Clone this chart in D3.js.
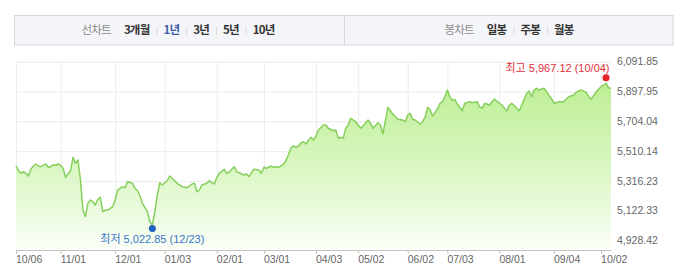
<!DOCTYPE html>
<html>
<head>
<meta charset="utf-8">
<script src="https://cdn.jsdelivr.net/npm/d3@7"></script>
<style>
  body { margin: 0; background: #fff; }
  svg { display: block; }
</style>
</head>
<body>
<div id="chart"></div>
<script>
// 1년 선차트 : 종가 라인 + 그라데이션 영역, 최고/최저 표시

// 거래일 인덱스 / 종가
const dayIdx = [0,1,2,3,4,5,6,7,8,9,10,11,12,13,14,15,16,17,18,19,20,21,22,23,24,25,26,27,28,29,30,31,32,33,34,35,36,37,39,40,41,43,44,45,47,48,49,50,51,53,54,55,56,57,58,59,61,62,64,65,67,69,71,72,73,74,75,77,78,79,80,81,82,84,85,86,88,89,90,92,93,94,95,96,98,99,100,101,103,104,105,106,108,109,110,111,112,113,114,115,116,117,118,119,120,121,122,124,125,126,128,129,130,131,132,133,134,135,137,138,139,140,142,143,144,146,147,148,150,152,153,154,156,157,158,159,160,161,163,164,165,166,167,168,170,171,172,173,174,175,176,177,178,180,181,183,184,186,187,188,189,191,192,193,195,196,197,198,199,200,202,203,204,206,207,208,209,210,211,213,214,215,216,217,219,221,222,223,225,226,227,228,230,231,232,234,235,236,237,238,239,240]
const closes = [5413.1,5382.6,5365.6,5376.1,5365.6,5348.1,5391.7,5413.1,5426.2,5413.1,5408.6,5417.7,5426.2,5404.7,5408.6,5421.6,5417.7,5426.2,5417.7,5398.2,5339.6,5361.1,5382.6,5469.7,5430.7,5452.2,5322.0,5126.8,5083.2,5170.4,5191.9,5180.8,5159.4,5196.4,5209.5,5115.8,5126.8,5126.8,5148.3,5191.9,5257.0,5278.5,5271.9,5311.0,5300.6,5268.0,5252.4,5217.9,5170.4,5115.8,5050.7,5029.2,5115.8,5224.4,5304.5,5289.5,5317.5,5348.1,5317.5,5300.6,5278.5,5271.9,5296.0,5300.6,5245.9,5257.0,5289.5,5300.6,5317.5,5304.5,5296.0,5339.6,5365.6,5391.7,5365.6,5374.1,5408.6,5376.1,5369.5,5354.6,5361.1,5343.5,5369.5,5391.7,5387.1,5365.6,5404.7,5398.2,5413.1,5404.7,5408.6,5404.7,5426.2,5452.2,5491.2,5534.8,5543.3,5534.8,5543.3,5564.8,5571.3,5556.3,5582.3,5599.9,5582.3,5608.3,5647.4,5679.9,5679.9,5658.5,5642.8,5647.4,5593.4,5599.9,5593.4,5658.5,5679.9,5723.5,5701.4,5679.9,5658.5,5673.4,5712.5,5691.0,5658.5,5694.9,5679.9,5621.4,5795.1,5751.5,5733.9,5717.0,5712.5,5701.4,5745.0,5756.1,5717.0,5712.5,5686.4,5701.4,5730.0,5795.1,5782.1,5738.5,5782.1,5821.1,5831.5,5864.1,5907.7,5864.1,5838.0,5847.2,5816.6,5773.0,5821.1,5831.5,5825.0,5831.5,5799.0,5788.6,5821.1,5810.1,5831.5,5849.1,5821.1,5810.1,5788.6,5771.0,5810.1,5821.1,5788.6,5771.0,5810.1,5886.2,5901.2,5864.1,5907.7,5918.7,5907.7,5918.7,5896.6,5870.6,5853.7,5821.1,5831.5,5831.5,5849.1,5864.1,5875.1,5892.7,5901.2,5907.7,5892.7,5864.1,5849.1,5892.7,5914.2,5929.1,5940.2,5951.3,5922.6,5918.7]
const lastIdx = 240

// X축 눈금 (거래일 인덱스 / 라벨)
const xTickIdx = [0,18,40,60,81,100,121,138,158,174,195,217,236]
const xTickLabels = ["10/06","11/01","12/01","01/03","02/01","03/01","04/03","05/02","06/02","07/03","08/01","09/04","10/02"]

// Y축 눈금
const yTicks = [4928.42,5122.33,5316.23,5510.14,5704.04,5897.95,6091.85]

// 최고 / 최저
const hiIdx = 238, hiValue = 5967.12, hiDate = "10/04"
const loIdx = 55, loValue = 5022.85, loDate = "12/23"

// 상단 탭
const lineTabs = ["3개월","1년","3년","5년","10년"]
const candleTabs = ["일봉","주봉","월봉"]
const activeTab = "1년"

const W = 680, H = 277
const plot = { left: 16, right: 611, top: 61.7, tickBottom: 240.5, bottom: 250 }
const numFont = "'Liberation Sans', Arial, 'Noto Sans CJK KR', sans-serif"
const krFont = "'Noto Sans CJK KR', 'Liberation Sans', sans-serif"

const svg = d3.select("#chart").append("svg")
  .attr("width", W).attr("height", H)
  .attr("viewBox", `0 0 ${W} ${H}`)

// --- 상단 탭 박스 ---
const head = svg.append("g")
head.append("rect")
  .attr("x", 14.5).attr("y", 15.5).attr("width", 658.5).attr("height", 29.5)
  .attr("fill", "#f4f5f8").attr("stroke", "#d5d8dd")
head.append("line")
  .attr("x1", 344.5).attr("x2", 344.5).attr("y1", 16).attr("y2", 45)
  .attr("stroke", "#d5d8dd")

function tabGroup(title, tabs, cx) {
  const g = head.append("g")
  let x = 0
  const t = g.append("text").attr("x", x).attr("y", 31)
    .attr("dominant-baseline", "middle")
    .attr("font-family", krFont).attr("font-size", 11.5).attr("letter-spacing", -0.8)
    .attr("fill", "#8c8c8c").text(title)
  x += t.node().getComputedTextLength() + 13
  tabs.forEach((name, i) => {
    if (i > 0) {
      g.append("line").attr("x1", x + 0.5).attr("x2", x + 0.5).attr("y1", 27).attr("y2", 35)
        .attr("stroke", "#dcdcdc")
      x += 7
    }
    const tt = g.append("text").attr("x", x).attr("y", 31)
      .attr("dominant-baseline", "middle")
      .attr("font-family", krFont).attr("font-size", 11.5).attr("font-weight", 700)
      .attr("letter-spacing", -0.8)
      .attr("fill", name === activeTab ? "#3b5ea6" : "#333")
      .text(name)
    x += tt.node().getComputedTextLength() + 7
  })
  const wTot = x - 7
  g.attr("transform", `translate(${cx - wTot / 2},0)`)
}
tabGroup("선차트", lineTabs, 178)
tabGroup("봉차트", candleTabs, 509)

// --- 스케일 ---
const x = d3.scaleLinear().domain([0, lastIdx]).range([plot.left, plot.right])
const y = d3.scaleLinear().domain([yTicks[0], yTicks[yTicks.length - 1]])
  .range([plot.tickBottom, plot.top])

const series = dayIdx.map((d, i) => ({ i: d, v: closes[i] }))

// 그리드 (가로)
svg.append("g")
  .attr("transform", `translate(${plot.left},0)`)
  .call(d3.axisRight(y).tickValues(yTicks).tickSize(plot.right + 1 - plot.left).tickFormat(""))
  .call(s => s.select(".domain").remove())
  .selectAll("line").attr("stroke", "#ececec")

// 그리드 (세로)
svg.append("g")
  .attr("transform", `translate(0,${plot.top})`)
  .call(d3.axisBottom(x).tickValues(xTickIdx).tickSize(plot.bottom - plot.top).tickFormat(""))
  .call(s => s.select(".domain").remove())
  .selectAll("line").attr("stroke", "#ececec")

// 영역 그라데이션
const defs = svg.append("defs")
const grad = defs.append("linearGradient").attr("id", "fillGrad")
  .attr("gradientUnits", "userSpaceOnUse")
  .attr("x1", 0).attr("x2", 0).attr("y1", 80).attr("y2", plot.bottom)
grad.append("stop").attr("offset", 0).attr("stop-color", "#bdee93")
grad.append("stop").attr("offset", 0.55).attr("stop-color", "#dcf7c6")
grad.append("stop").attr("offset", 1).attr("stop-color", "#fbfff8")

svg.append("path").datum(series)
  .attr("fill", "url(#fillGrad)")
  .attr("d", d3.area().x(d => x(d.i)).y0(plot.bottom).y1(d => y(d.v)))

svg.append("path").datum(series)
  .attr("fill", "none").attr("stroke", "#86d05c").attr("stroke-width", 1.5)
  .attr("stroke-linejoin", "round")
  .attr("d", d3.line().x(d => x(d.i)).y(d => y(d.v)))

// X축
const xAxis = svg.append("g")
  .attr("transform", `translate(0,${plot.bottom})`)
  .call(d3.axisBottom(x).tickValues(xTickIdx).tickSize(4).tickSizeOuter(0)
    .tickFormat((d, i) => xTickLabels[i]))
xAxis.select(".domain").attr("d", `M${plot.left},0.5H${plot.right + 1}`).attr("stroke", "#c4c4c4")
xAxis.selectAll("line").attr("stroke", "#c4c4c4")
xAxis.selectAll("text")
  .attr("text-anchor", "start").attr("x", -0.5).attr("y", 6).attr("dy", "0.71em")
  .attr("font-family", numFont).attr("font-size", 10.5).attr("fill", "#666")

// Y축 라벨 (오른쪽)
const fmt = d3.format(",.2f")
svg.append("g").selectAll("text")
  .data(yTicks).join("text")
  .attr("x", 617).attr("y", d => y(d)).attr("dy", "0.35em")
  .attr("font-family", numFont).attr("font-size", 10.5).attr("fill", "#666")
  .text(d => fmt(d))

// 최고 / 최저 표시
const hx = x(hiIdx), hy = y(hiValue) - 3
svg.append("circle").attr("cx", hx).attr("cy", hy).attr("r", 3.5).attr("fill", "#e8202a")
svg.append("text")
  .attr("x", hx + 3.5).attr("y", hy - 10).attr("dy", "0.35em").attr("text-anchor", "end")
  .attr("font-family", numFont).attr("font-size", 11).attr("fill", "#e0303a")
  .text(`최고 ${fmt(hiValue)} (${hiDate})`)

const lx = x(loIdx), ly = y(loValue) + 2.5
svg.append("circle").attr("cx", lx).attr("cy", ly).attr("r", 3.5).attr("fill", "#1f60c0")
svg.append("text")
  .attr("x", lx).attr("y", ly + 11).attr("dy", "0.35em").attr("text-anchor", "middle")
  .attr("font-family", numFont).attr("font-size", 11).attr("fill", "#3a76c6")
  .text(`최저 ${fmt(loValue)} (${loDate})`)
</script>
</body>
</html>
